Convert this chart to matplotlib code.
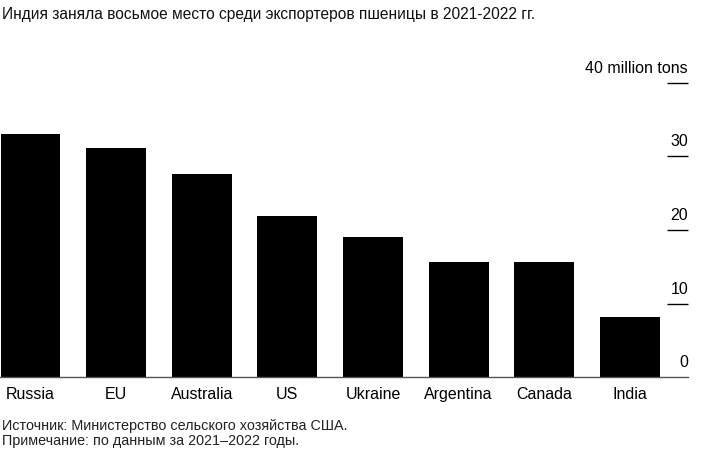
import matplotlib
matplotlib.use("Agg")
import matplotlib.pyplot as plt

countries = ["Russia", "EU", "Australia", "US", "Ukraine", "Argentina", "Canada", "India"]
exports = [33.1, 31.1, 27.6, 21.9, 19.0, 15.6, 15.6, 8.1]
tick_vals = [10, 20, 30, 40]
tick_labels = ["10", "20", "30", "40 million tons"]

title = "Индия заняла восьмое место среди экспортеров пшеницы в 2021-2022 гг."
source = "Источник: Министерство сельского хозяйства США."
note = "Примечание: по данным за 2021–2022 годы."

plt.rcParams['font.family'] = ['Liberation Sans', 'DejaVu Sans']

W, H = 701, 454
fig = plt.figure(figsize=(W / 100, H / 100), dpi=100)
# axes: x 0..688 px, y 83..377 px from top
ax = fig.add_axes([0, (H - 377) / H, 688 / W, (377 - 83) / H])

x = list(range(len(countries)))
ax.bar(x, exports, width=0.70, color="black", zorder=2)
ax.set_xlim(-0.356, 7.68)
ax.set_ylim(0, 40)

for s in ["top", "right", "left"]:
    ax.spines[s].set_visible(False)
ax.spines["bottom"].set_color("#555555")
ax.spines["bottom"].set_linewidth(1.0)
ax.set_xticks([])
ax.set_yticks([])

# short tick marks on the right, labels sit above them
ytr = ax.get_yaxis_transform()
ax.hlines(tick_vals, 667 / 688, 1.0, transform=ytr, color="black", lw=1.0, clip_on=False)
for v, lab in zip([0] + tick_vals, ["0"] + tick_labels):
    ax.annotate(lab, (1.0, v), xycoords=ytr, xytext=(0, 7.2), textcoords="offset points",
                ha="right", va="baseline", fontsize=11.5, color="black")

for xi, name in zip(x, countries):
    ax.annotate(name, (xi, 0), xycoords="data", xytext=(0, -15.8), textcoords="offset points",
                ha="center", va="baseline", fontsize=11.5, color="black")

fig.text(2 / W, 1 - 19 / H, title, fontsize=11.2, ha="left", va="baseline", color="#111111")
fig.text(2 / W, 1 - 430 / H, source, fontsize=10.4, ha="left", va="baseline", color="#222222")
fig.text(2 / W, 1 - 445 / H, note, fontsize=10.4, ha="left", va="baseline", color="#222222")

fig.savefig("out.png", dpi=100)
